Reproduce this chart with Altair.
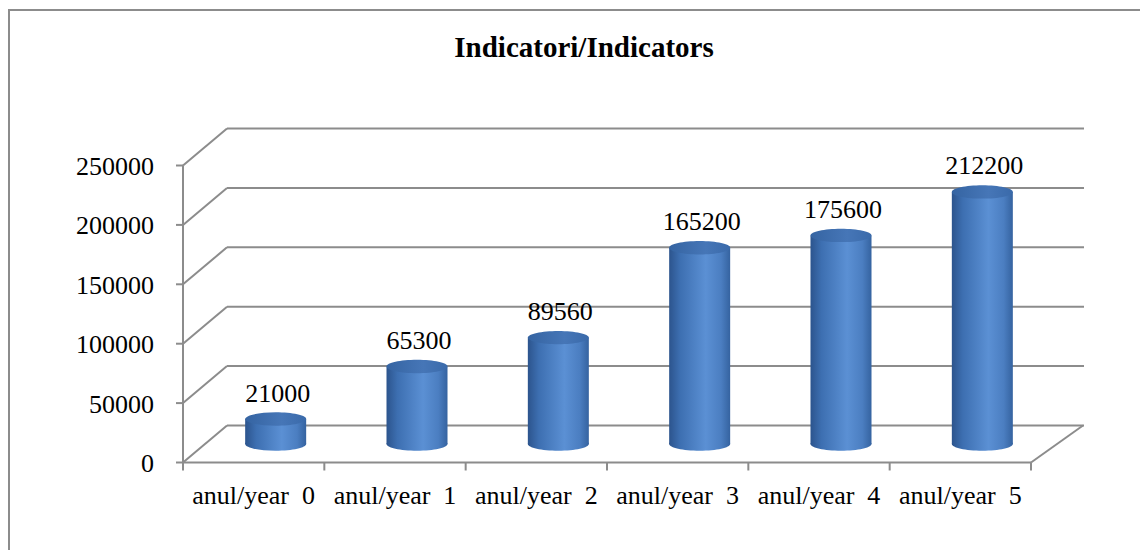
import altair as alt
import pandas as pd

# ---- data ----
categories = ["anul/year  0", "anul/year  1", "anul/year  2",
              "anul/year  3", "anul/year  4", "anul/year  5"]
values = [21000, 65300, 89560, 165200, 175600, 212200]
y_ticks = [0, 50000, 100000, 150000, 200000, 250000]
title_text = "Indicatori/Indicators"

bars = pd.DataFrame({
    "pos": [i + 0.5 for i in range(len(values))],
    "value": values,
    "label": [str(v) for v in values],
    # keep the double gap of the original labels (SVG would collapse plain spaces)
    "cat": [c.replace("  ", "\u00a0\u00a0") for c in categories],
    "zero": [0] * len(values),
})
ticks = pd.DataFrame({
    "v": y_ticks,
    "x0": [0] * len(y_ticks),
    "x6": [len(categories)] * len(y_ticks),
    "label": [str(t) for t in y_ticks],
})
xticks = pd.DataFrame({"b": list(range(len(categories) + 1)),
                       "zero": [0] * (len(categories) + 1)})
axis_line = pd.DataFrame({"x0": [0], "x6": [len(categories)],
                          "lo": [0], "hi": [y_ticks[-1]]})

# ---- style ----
XS = alt.Scale(domain=[0, 6], range=[170, 1028])
YS = alt.Scale(domain=[0, 250000], range=[454.5, 157.5])
GRID = "#8c8c8c"
FONT = "Liberation Serif"
DX, DY = 44, -37          # depth of the back wall
MX, MY = 22, -18.5        # mid-depth (where cylinders stand)
BW = 61                   # cylinder width
ELL = "M -1 0 A 1 0.22 0 1 1 1 0 A 1 0.22 0 1 1 -1 0 Z"

body_grad = alt.LinearGradient(
    gradient="linear", x1=0, x2=1, y1=0, y2=0,
    stops=[alt.GradientStop(color="#2c548d", offset=0),
           alt.GradientStop(color="#3d6fb1", offset=0.18),
           alt.GradientStop(color="#5b90d4", offset=0.6),
           alt.GradientStop(color="#4b7ec1", offset=0.85),
           alt.GradientStop(color="#3563a0", offset=1)])
top_grad = alt.LinearGradient(
    gradient="linear", x1=0, x2=1, y1=0, y2=0,
    stops=[alt.GradientStop(color="#3564a2", offset=0),
           alt.GradientStop(color="#4676b7", offset=0.6),
           alt.GradientStop(color="#3a6aaa", offset=1)])

# ---- frame ----
frame = pd.DataFrame({"k": [0]})
border_top = alt.Chart(frame).mark_rule(color=GRID, strokeWidth=2).encode(
    x=alt.value(0), x2=alt.value(1132), y=alt.value(2))
border_left = alt.Chart(frame).mark_rule(color=GRID, strokeWidth=2).encode(
    x=alt.value(1), y=alt.value(1), y2=alt.value(542))

# ---- back wall gridlines ----
tb = alt.Chart(ticks)
back_grid = tb.mark_rule(color=GRID, strokeWidth=2, xOffset=DX, x2Offset=DX + 9,
                         yOffset=DY, y2Offset=DY).encode(
    x=alt.X("x0:Q", scale=XS, axis=None), x2="x6:Q",
    y=alt.Y("v:Q", scale=YS, axis=None))
side_diag = tb.mark_rule(color=GRID, strokeWidth=2, x2Offset=DX, y2Offset=DY).encode(
    x=alt.X("x0:Q", scale=XS, axis=None), x2="x0:Q",
    y=alt.Y("v:Q", scale=YS, axis=None), y2="v:Q")
floor_diag = tb.transform_filter("datum.v == 0").mark_rule(
    color=GRID, strokeWidth=2, x2Offset=DX + 8, y2Offset=DY).encode(
    x=alt.X("x6:Q", scale=XS, axis=None), x2="x6:Q",
    y=alt.Y("v:Q", scale=YS, axis=None), y2="v:Q")

# ---- front axes ----
al = alt.Chart(axis_line)
y_axis = al.mark_rule(color=GRID, strokeWidth=2).encode(
    x=alt.X("x0:Q", scale=XS, axis=None),
    y=alt.Y("lo:Q", scale=YS, axis=None), y2="hi:Q")
x_axis = al.mark_rule(color=GRID, strokeWidth=2).encode(
    x=alt.X("x0:Q", scale=XS, axis=None), x2="x6:Q",
    y=alt.Y("lo:Q", scale=YS, axis=None))
y_tick_marks = tb.mark_rule(color=GRID, strokeWidth=2, xOffset=-7).encode(
    x=alt.X("x0:Q", scale=XS, axis=None), x2="x0:Q",
    y=alt.Y("v:Q", scale=YS, axis=None))
y_labels = tb.mark_text(align="right", baseline="alphabetic", dx=-29, dy=9.5,
                        font=FONT, fontSize=26, color="#000000").encode(
    x=alt.X("x0:Q", scale=XS, axis=None),
    y=alt.Y("v:Q", scale=YS, axis=None), text="label:N")
x_tick_marks = alt.Chart(xticks).mark_rule(color=GRID, strokeWidth=2, y2Offset=8).encode(
    x=alt.X("b:Q", scale=XS, axis=None),
    y=alt.Y("zero:Q", scale=YS, axis=None), y2="zero:Q")

bb = alt.Chart(bars)
x_labels = bb.mark_text(align="center", baseline="alphabetic", dy=41,
                        font=FONT, fontSize=26, color="#000000").encode(
    x=alt.X("pos:Q", scale=XS, axis=None),
    y=alt.Y("zero:Q", scale=YS, axis=None), text="cat:N")

# ---- cylinders ----
bottom_ell = bb.mark_point(shape=ELL, size=BW * BW, filled=True, fill=body_grad,
                           opacity=1, strokeWidth=0, xOffset=MX, yOffset=MY).encode(
    x=alt.X("pos:Q", scale=XS, axis=None),
    y=alt.Y("zero:Q", scale=YS, axis=None))
body = bb.mark_bar(width=BW, fill=body_grad, xOffset=MX, yOffset=MY, y2Offset=MY).encode(
    x=alt.X("pos:Q", scale=XS, axis=None),
    y=alt.Y("value:Q", scale=YS, axis=None), y2="zero:Q")
top_ell = bb.mark_point(shape=ELL, size=BW * BW, filled=True, fill=top_grad,
                        opacity=1, strokeWidth=0, xOffset=MX, yOffset=MY).encode(
    x=alt.X("pos:Q", scale=XS, axis=None),
    y=alt.Y("value:Q", scale=YS, axis=None))
val_labels = bb.mark_text(align="center", baseline="alphabetic", dx=MX + 2, dy=MY - 17.5,
                          font=FONT, fontSize=26, color="#000000").encode(
    x=alt.X("pos:Q", scale=XS, axis=None),
    y=alt.Y("value:Q", scale=YS, axis=None), text="label:N")

title = alt.Chart(frame).mark_text(align="center", baseline="alphabetic", font=FONT,
                                   fontSize=29, fontWeight="bold", color="#000000").encode(
    x=alt.value(576), y=alt.value(49), text=alt.datum(title_text))

chart = alt.layer(
    border_top, border_left, back_grid, side_diag, floor_diag,
    bottom_ell, body, top_ell,
    y_axis, x_axis, y_tick_marks, x_tick_marks,
    y_labels, x_labels, val_labels, title,
).properties(width=1132, height=542, autosize="none", padding=0
).configure_view(strokeWidth=0)

chart.save("out.html", embed_options={"renderer": "svg", "actions": False})
